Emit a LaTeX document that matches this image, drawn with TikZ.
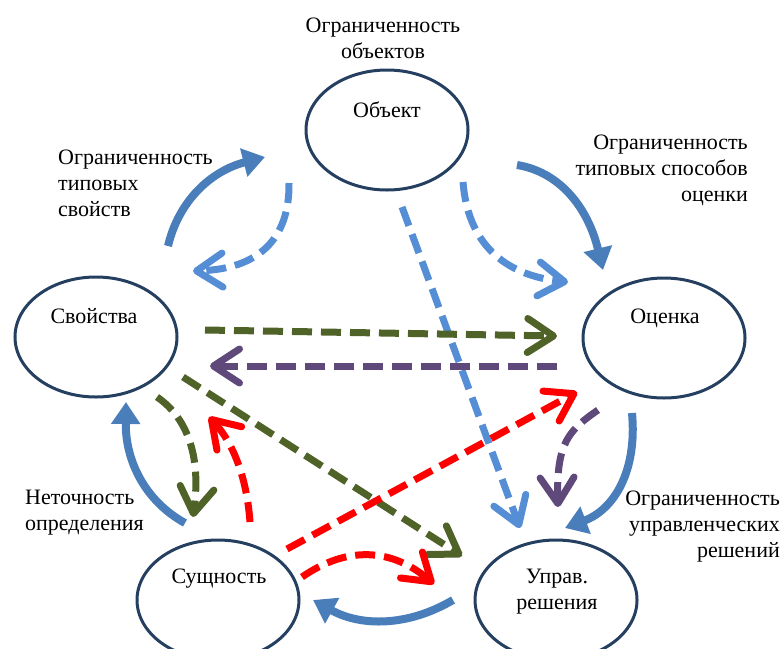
\documentclass[tikz,border=0pt]{standalone}
\usepackage{fontspec}
\setmainfont{Liberation Serif}
\usetikzlibrary{shapes.geometric,arrows.meta}
\definecolor{rim}{HTML}{243F60}
\definecolor{flow}{HTML}{4A7EBB}
\definecolor{sky}{HTML}{558ED5}
\definecolor{moss}{HTML}{4F6228}
\definecolor{plum}{HTML}{5F497A}
\definecolor{alarm}{HTML}{FF0000}
\tikzset{
  stage/.style={ellipse, draw=rim, line width=3pt, minimum width=162pt, minimum height=120pt, inner sep=0pt},
  caption/.style={font=\fontsize{22}{26}\selectfont, inner sep=0pt},
  loopflow/.style={draw=flow, line width=8pt, -{Triangle[length=22pt,width=28pt]}},
  trace/.style={draw=#1, line width=7pt, dash pattern=on 20pt off 9pt, -{Straight Barb[length=26pt,width=34pt,round]}},
}
\begin{document}
\begin{tikzpicture}[x=1pt,y=-1pt]
			\clip (0,0) rectangle (783,648);
			%stages
			\node[stage] (obj) at (387,130) {};
			\node[stage] (prop) at (96,337) {};
			\node[stage] (eval) at (664,338) {};
			\node[stage] (ess) at (218,600) {};
			\node[stage] (dec) at (556,600) {};
			\node[caption] (objT) at (387,110) {Объект};
			\node[caption] (propT) at (94,316) {Свойства};
			\node[caption] (evalT) at (665,318) {Оценка};
			\node[caption] (essT) at (219,579) {Сущность};
			\node[caption, align=center] (decT) at (557,592) {Управ.\\решения};
			
			%limits
			\node[caption, align=center] (limObj) at (383,38) {Ограниченность\\объектов};
			\node[caption, align=left, anchor=west] (limProp) at (58,183) {Ограниченность\\типовых\\свойств};
			\node[caption, align=right, anchor=east] (limEval) at (748,170) {Ограниченность\\типовых способов\\оценки};
			\node[caption, align=left, anchor=west] (limEss) at (25,513) {Неточность\\определения};
			\node[caption, align=right, anchor=east] (limDec) at (780,527) {Ограниченность\\управленческих\\решений};
			
			%ends of the arrows
			\coordinate (a1) at (168,246); \coordinate (b1) at (265,157);
			\coordinate (a2) at (289,183); \coordinate (b2) at (193,271);
			\coordinate (a3) at (517,165); \coordinate (b3) at (603,270);
			\coordinate (a4) at (463,182); \coordinate (b4) at (568,282);
			\coordinate (a5) at (402,207); \coordinate (b5) at (520,528);
			\coordinate (a6) at (205,330); \coordinate (b6) at (557,336);
			\coordinate (a7) at (557,366); \coordinate (b7) at (210,366);
			\coordinate (a8) at (183,377); \coordinate (b8) at (462,556);
			\coordinate (a9) at (157,397); \coordinate (b9) at (193,517);
			\coordinate (a10) at (185,523); \coordinate (b10) at (126,402);
			\coordinate (a11) at (250,522); \coordinate (b11) at (209,417);
			\coordinate (a12) at (287,549); \coordinate (b12) at (577,392);
			\coordinate (a13) at (302,577); \coordinate (b13) at (434,584);
			\coordinate (a14) at (453,600); \coordinate (b14) at (313,600);
			\coordinate (a15) at (598,410); \coordinate (b15) at (558,507);
			\coordinate (a16) at (632,413); \coordinate (b16) at (565,528);
			
			%solid loops
			\draw[loopflow] (a1) .. controls (178.7,200.7) and (211,171) .. (b1);
			\draw[loopflow] (a3) .. controls (559,171.7) and (587.7,206.7) .. (b3);
			\draw[loopflow] (a10) .. controls (145,501) and (125.3,460.7) .. (b10);
			\draw[loopflow] (a14) .. controls (407.7,626.7) and (361,626.7) .. (b14);
			\draw[loopflow] (a16) .. controls (637.3,471) and (614.3,509.3) .. (b16);
			
			%dashed links
			\draw[trace=sky] (a2) .. controls (289.7,239.7) and (257.7,269) .. (b2);
			\draw[trace=sky] (a4) .. controls (467.7,242) and (502.7,275.3) .. (b4);
			\draw[trace=sky] (a5) -- (b5);
			\draw[trace=moss] (a6) -- (b6);
			\draw[trace=plum] (a7) -- (b7);
			\draw[trace=moss] (a8) -- (b8);
			\draw[trace=moss] (a9) .. controls (189,419) and (201,459) .. (b9);
			\draw[trace=alarm] (a11) .. controls (246.7,477.3) and (233,442.3) .. (b11);
			\draw[trace=alarm] (a12) -- (b12);
			\draw[trace=alarm] (a13) .. controls (347.3,545.7) and (391.3,548) .. (b13);
			\draw[trace=plum] (a15) .. controls (569.3,430) and (556,442.3) .. (b15);
\end{tikzpicture}
\end{document}
